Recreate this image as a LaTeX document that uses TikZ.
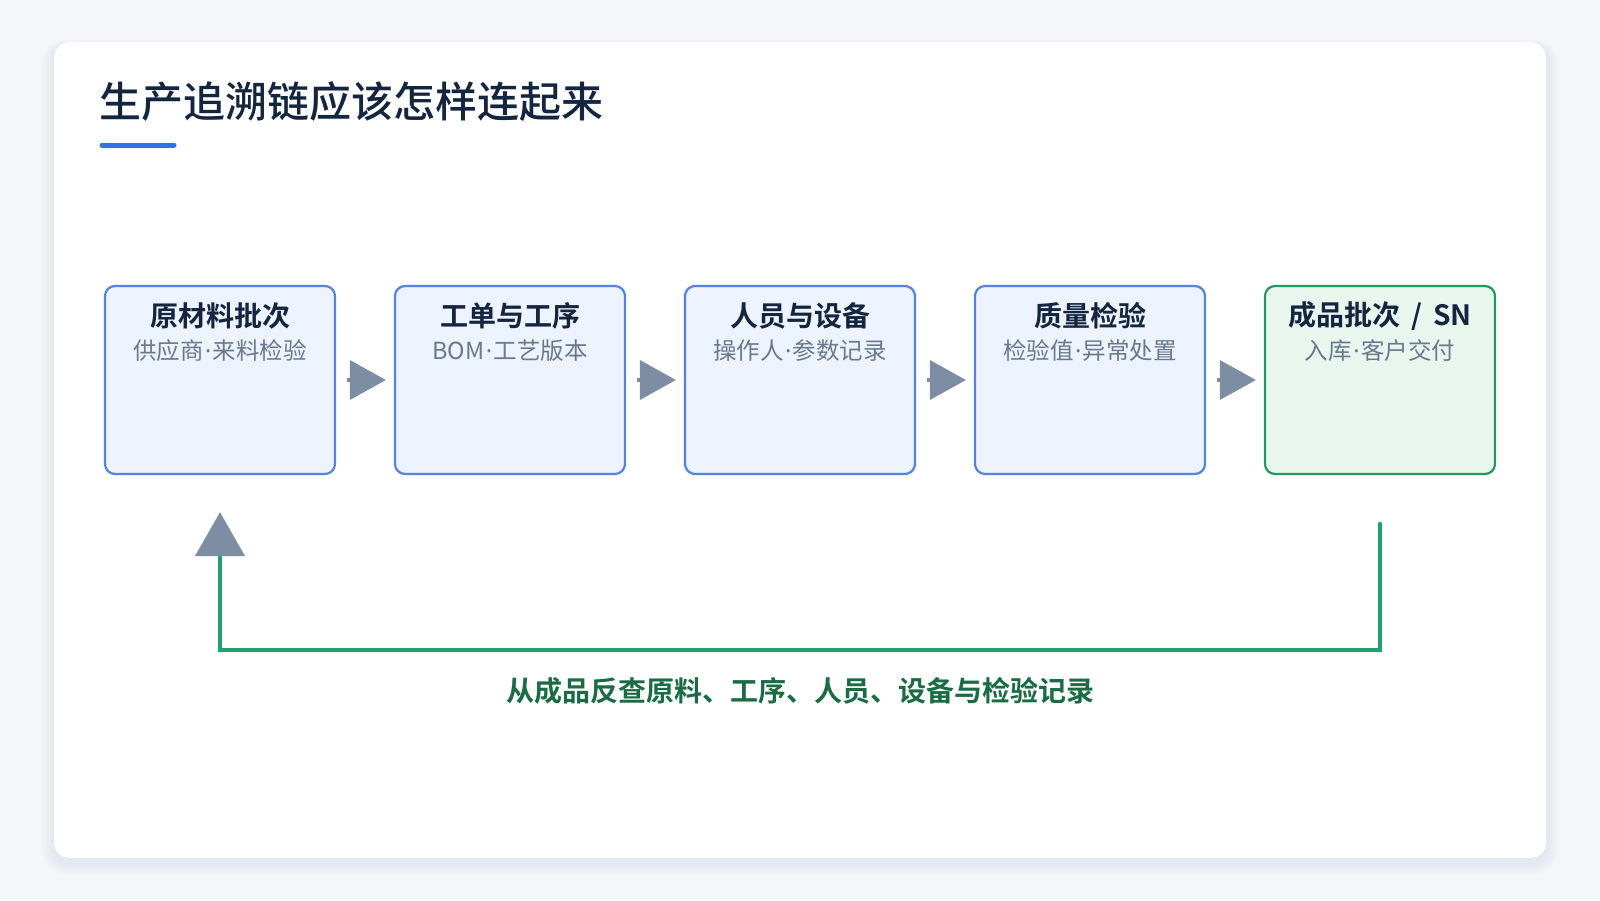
\documentclass[tikz,border=0pt]{standalone}
\usepackage{fontspec}
\setmainfont{Noto Sans CJK SC}[BoldFont={Noto Sans CJK SC Medium}]
\newfontfamily\heavyfont{Noto Sans CJK SC Bold}
\newfontfamily\dotfont{Noto Sans}
\newcommand{\mdot}{{\dotfont\kern1.5pt·\kern1.5pt}}
\usetikzlibrary{arrows.meta,calc}
\definecolor{bgc}{HTML}{F4F6FA}
\definecolor{titlec}{HTML}{14263F}
\definecolor{ulc}{HTML}{2F73E8}
\definecolor{boxb}{HTML}{5582DA}
\definecolor{boxf}{HTML}{EDF3FF}
\definecolor{gboxb}{HTML}{24985F}
\definecolor{gboxf}{HTML}{E8F6EE}
\definecolor{arrg}{HTML}{7D8DA3}
\definecolor{linegreen}{HTML}{22A06B}
\definecolor{labgreen}{HTML}{1B6B45}
\definecolor{subc}{HTML}{6A788E}
\definecolor{shad}{HTML}{C8CEDC}
\tikzset{
  card/.style={fill=white, rounded corners=16pt},
  stepbox/.style={draw=boxb, fill=boxf, line width=2.2pt, rounded corners=10pt,
    minimum width=230pt, minimum height=188pt, inner sep=0pt},
  greenbox/.style={stepbox, draw=gboxb, fill=gboxf},
  boxtitle/.style={font=\fontsize{28}{32}\selectfont\heavyfont, text=titlec, inner sep=0pt},
  boxsub/.style={font=\fontsize{23.5}{27}\selectfont, text=subc, inner sep=0pt},
  flow/.style={draw=arrg, line width=3.5pt, -{Triangle[length=36pt,width=39pt,color=arrg]}},
  back/.style={draw=linegreen, line width=4.5pt,
    -{Triangle[length=44pt,width=49pt,color=arrg]}}
}
\begin{document}
\begin{tikzpicture}[x=1pt,y=-1pt]
\useasboundingbox (0,0) rectangle (1600,900);
\fill[bgc] (0,0) rectangle (1600,900);
% soft shadow
\foreach \i in {1,...,8}{
  \fill[shad, opacity=0.035, rounded corners=16pt+\i pt]
    (54-\i*1.6,42-\i*0.8+4) rectangle (1546+\i*1.6,858+\i*1.6+4);
}
\path[card] (54,42) rectangle (1546,858);

\node[anchor=west, inner sep=0pt, font=\fontsize{42}{48}\selectfont\bfseries, text=titlec] (title) at (99,102) {生产追溯链应该怎样连起来};
\draw[ulc, line width=5pt, line cap=round] (102,145) coordinate (ul1) -- (174,145) coordinate (ul2);

\node[stepbox] (b1) at (220,380) {};
\node[stepbox] (b2) at (510,380) {};
\node[stepbox] (b3) at (800,380) {};
\node[stepbox] (b4) at (1090,380) {};
\node[greenbox] (b5) at (1380,380) {};

\node[boxtitle] (t1) at (220,316) {原材料批次};
\node[boxsub] (s1) at (220,351) {供应商\mdot 来料检验};
\node[boxtitle] (t2) at (510,316) {工单与工序};
\node[boxsub] (s2) at (510,351) {BOM\mdot 工艺版本};
\node[boxtitle] (t3) at (800,316) {人员与设备};
\node[boxsub] (s3) at (800,351) {操作人\mdot 参数记录};
\node[boxtitle] (t4) at (1090,316) {质量检验};
\node[boxsub] (s4) at (1090,351) {检验值\mdot 异常处置};
\node[boxtitle] (t5) at (1380,316) {成品批次\hspace{11pt}/\hspace{11pt}SN};
\node[boxsub] (s5) at (1380,351) {入库\mdot 客户交付};

\draw[flow, shorten <=11pt, shorten >=8pt] (b1.east) -- (b2.west);
\draw[flow, shorten <=11pt, shorten >=8pt] (b2.east) -- (b3.west);
\draw[flow, shorten <=11pt, shorten >=8pt] (b3.east) -- (b4.west);
\draw[flow, shorten <=11pt, shorten >=8pt] (b4.east) -- (b5.west);

\coordinate (fbstart) at ($(b5.south)+(0,49)$);
\coordinate (fbcorner) at ($(b5.south)+(0,175)$);
\coordinate (fbend) at ($(b1.south)+(0,37)$);
\draw[back] (fbstart) -- (fbcorner) -| (fbend);
\fill[linegreen] (fbstart) circle (2.25pt);

\node[font=\fontsize{28}{32}\selectfont\heavyfont, text=labgreen, inner sep=0pt] (lab) at (800,691) {从成品反查原料、工序、人员、设备与检验记录};
\end{tikzpicture}
\end{document}
